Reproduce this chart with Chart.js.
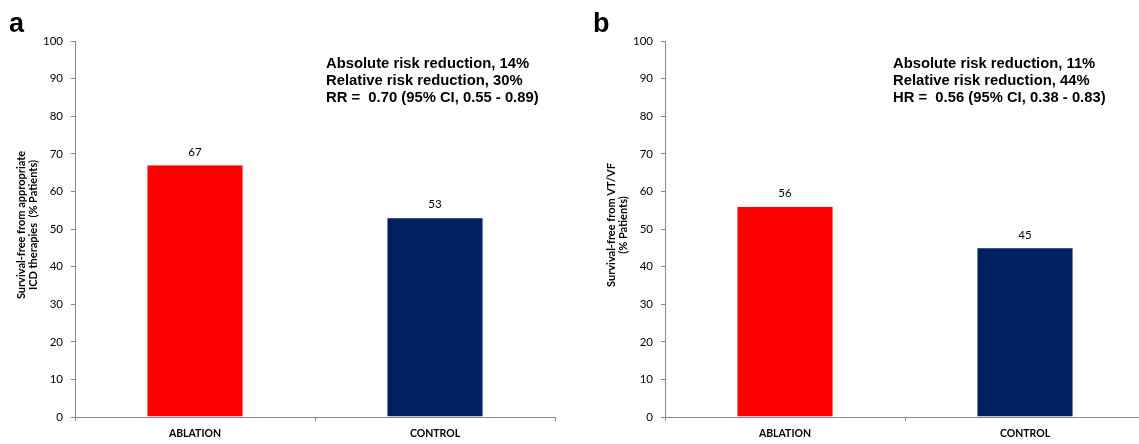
<!DOCTYPE html>
<html>
<head>
<meta charset="utf-8">
<script src="https://cdn.jsdelivr.net/npm/chart.js@4.4.1/dist/chart.umd.min.js"></script>
<style>
  html, body { margin: 0; padding: 0; background: #fff; overflow: hidden; }
  body { width: 1139px; height: 444px; position: relative; }
  .panel { position: absolute; top: 0; height: 444px; }
  #panelA { left: 0; width: 570px; }
  #panelB { left: 570px; width: 600px; }
</style>
</head>
<body>
<div class="panel" id="panelA"><canvas id="chartA"></canvas></div>
<div class="panel" id="panelB"><canvas id="chartB"></canvas></div>
<script>
// Categories and survival percentages for each panel
const categories = ['ABLATION', 'CONTROL'];
const valuesA = [67, 53];
const valuesB = [56, 45];
const barColors = ['#FF0000', '#002060'];
const yTicks = [0, 10, 20, 30, 40, 50, 60, 70, 80, 90, 100];

const yTitleA = ['Survival-free from appropriate', 'ICD therapies  (% Patients)'];
const yTitleB = ['Survival-free from VT/VF', '(% Patients)'];
const notesA = ['Absolute risk reduction, 14%', 'Relative risk reduction, 30%', 'RR =  0.70 (95% CI, 0.55 - 0.89)'];
const notesB = ['Absolute risk reduction, 11%', 'Relative risk reduction, 44%', 'HR =  0.56 (95% CI, 0.38 - 0.83)'];

const AXIS = '#888888';
const CAL = 'Lato, "Open Sans", sans-serif';
const ARIAL = '"Liberation Sans", Arial, sans-serif';

// Draws the value above each bar, the rotated y title, the notes and the panel letter
const decorations = {
  id: 'decorations',
  afterDatasetsDraw(chart, args, opts) {
    const ctx = chart.ctx;
    const area = chart.chartArea;
    ctx.save();
    // value labels
    ctx.fillStyle = '#000';
    ctx.font = '11.5px ' + CAL;
    ctx.textAlign = 'center';
    ctx.textBaseline = 'middle';
    const meta = chart.getDatasetMeta(0);
    meta.data.forEach((bar, i) => {
      ctx.fillText(String(chart.data.datasets[0].data[i]), bar.x, bar.y - 13);
    });
    // rotated y-axis title
    ctx.save();
    ctx.font = 'bold 11px ' + CAL;
    const cy = (area.top + area.bottom) / 2 - 4;
    opts.yTitle.forEach((line, k) => {
      ctx.save();
      ctx.translate(area.left - 54 + k * 12.5, cy);
      ctx.rotate(-Math.PI / 2);
      ctx.fillText(line, 0, 0);
      ctx.restore();
    });
    ctx.restore();
    // notes block
    ctx.font = 'bold 14.8px ' + ARIAL;
    ctx.textAlign = 'left';
    opts.notes.forEach((line, k) => {
      ctx.fillText(line, opts.notesX, 64 + k * 17);
    });
    // panel letter
    ctx.font = 'bold 27px ' + ARIAL;
    ctx.textBaseline = 'alphabetic';
    ctx.fillText(opts.letter, opts.letterX, 32);
    ctx.restore();
  }
};

function makeChart(id, values, yWidth, padRight, opts) {
  return new Chart(document.getElementById(id), {
    type: 'bar',
    data: {
      labels: categories,
      datasets: [{
        data: values,
        backgroundColor: barColors,
        borderColor: 'rgba(180,180,180,0.6)',
        borderWidth: 0.5,
        barPercentage: 0.4,
        categoryPercentage: 1.0
      }]
    },
    options: {
      responsive: true,
      maintainAspectRatio: false,
      animation: false,
      layout: { padding: { top: 41, right: padRight, bottom: 0, left: 0 } },
      plugins: {
        legend: { display: false },
        tooltip: { enabled: false },
        decorations: opts
      },
      scales: {
        x: {
          offset: true,
          grid: { offset: true, drawOnChartArea: false, drawTicks: true, tickLength: 4, color: AXIS },
          border: { display: true, color: AXIS, width: 1 },
          ticks: { color: '#000', font: { family: CAL, size: 10.5, weight: 'bold' }, padding: 6 },
          afterFit(scale) { scale.height = 27; }
        },
        y: {
          min: 0,
          max: 100,
          afterBuildTicks(scale) { scale.ticks = yTicks.map(v => ({ value: v })); },
          grid: { drawOnChartArea: false, drawTicks: true, tickLength: 4, color: AXIS },
          border: { display: true, color: AXIS, width: 1 },
          ticks: { color: '#000', font: { family: CAL, size: 11.5 }, padding: 8 },
          afterFit(scale) { scale.width = yWidth; }
        }
      }
    },
    plugins: [decorations]
  });
}

makeChart('chartA', valuesA, 75, 15, { yTitle: yTitleA, notes: notesA, notesX: 326, letter: 'a', letterX: 9 });
makeChart('chartB', valuesB, 95, 25, { yTitle: yTitleB, notes: notesB, notesX: 323, letter: 'b', letterX: 23 });
</script>
</body>
</html>
